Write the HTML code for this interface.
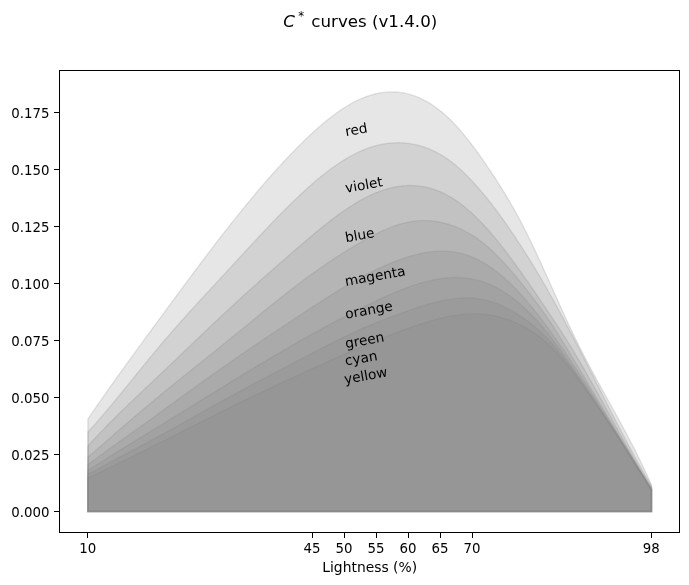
<!DOCTYPE html>
<html lang="en"><head><meta charset="utf-8"><title>C* curves (v1.4.0)</title>
<style>html,body{margin:0;padding:0;background:#fff}body{width:689px;height:585px;overflow:hidden}svg{display:block}text{font-family:"DejaVu Sans","Liberation Sans",sans-serif;fill:#000}.t{font-size:13.89px}</style></head><body>
<svg width="689" height="585" viewBox="0 0 689 585">
<rect width="689" height="585" fill="#fff"/>
<g fill="#808080" fill-opacity="0.2" stroke="#808080" stroke-opacity="0.2" stroke-width="1.39" stroke-linejoin="miter">
<path d="M87.90 511.50 L87.90 419.08 L89.90 416.14 L91.90 413.22 L93.90 410.31 L95.90 407.41 L97.90 404.52 L99.90 401.64 L101.90 398.76 L103.90 395.90 L105.90 393.05 L107.90 390.21 L109.90 387.37 L111.90 384.55 L113.90 381.73 L115.90 378.92 L117.90 376.11 L119.90 373.32 L121.90 370.53 L123.90 367.74 L125.90 364.96 L127.90 362.19 L129.90 359.42 L131.90 356.66 L133.90 353.90 L135.90 351.15 L137.90 348.40 L139.90 345.66 L141.90 342.92 L143.90 340.18 L145.90 337.44 L147.90 334.71 L149.90 331.98 L151.90 329.25 L153.90 326.52 L155.90 323.79 L157.90 321.07 L159.90 318.34 L161.90 315.62 L163.90 312.89 L165.90 310.17 L167.90 307.45 L169.90 304.73 L171.90 302.01 L173.90 299.29 L175.90 296.57 L177.90 293.86 L179.90 291.15 L181.90 288.45 L183.90 285.74 L185.90 283.04 L187.90 280.35 L189.90 277.66 L191.90 274.97 L193.90 272.29 L195.90 269.62 L197.90 266.95 L199.90 264.28 L201.90 261.62 L203.90 258.97 L205.90 256.33 L207.90 253.69 L209.90 251.06 L211.90 248.43 L213.90 245.82 L215.90 243.21 L217.90 240.61 L219.90 238.02 L221.90 235.44 L223.90 232.87 L225.90 230.31 L227.90 227.76 L229.90 225.22 L231.90 222.69 L233.90 220.17 L235.90 217.66 L237.90 215.17 L239.90 212.68 L241.90 210.21 L243.90 207.75 L245.90 205.30 L247.90 202.86 L249.90 200.44 L251.90 198.03 L253.90 195.64 L255.90 193.26 L257.90 190.89 L259.90 188.54 L261.90 186.20 L263.90 183.88 L265.90 181.57 L267.90 179.28 L269.90 177.00 L271.90 174.75 L273.90 172.50 L275.90 170.28 L277.90 168.07 L279.90 165.88 L281.90 163.70 L283.90 161.55 L285.90 159.41 L287.90 157.29 L289.90 155.19 L291.90 153.11 L293.90 151.05 L295.90 149.01 L297.90 146.98 L299.90 144.98 L301.90 143.00 L303.90 141.04 L305.90 139.10 L307.90 137.19 L309.90 135.30 L311.90 133.44 L313.90 131.60 L315.90 129.79 L317.90 128.01 L319.90 126.26 L321.90 124.54 L323.90 122.86 L325.90 121.20 L327.90 119.58 L329.90 118.00 L331.90 116.45 L333.90 114.94 L335.90 113.47 L337.90 112.04 L339.90 110.65 L341.90 109.30 L343.90 108.00 L345.90 106.73 L347.90 105.52 L349.90 104.35 L351.90 103.22 L353.90 102.15 L355.90 101.12 L357.90 100.15 L359.90 99.22 L361.90 98.35 L363.90 97.53 L365.90 96.77 L367.90 96.05 L369.90 95.40 L371.90 94.80 L373.90 94.25 L375.90 93.76 L377.90 93.32 L379.90 92.95 L381.90 92.63 L383.90 92.36 L385.90 92.16 L387.90 92.02 L389.90 91.93 L391.90 91.90 L393.90 91.94 L395.90 92.03 L397.90 92.19 L399.90 92.41 L401.90 92.69 L403.90 93.03 L405.90 93.44 L407.90 93.91 L409.90 94.44 L411.90 95.04 L413.90 95.71 L415.90 96.44 L417.90 97.23 L419.90 98.09 L421.90 99.02 L423.90 100.02 L425.90 101.09 L427.90 102.22 L429.90 103.42 L431.90 104.69 L433.90 106.03 L435.90 107.45 L437.90 108.93 L439.90 110.48 L441.90 112.11 L443.90 113.81 L445.90 115.58 L447.90 117.43 L449.90 119.34 L451.90 121.34 L453.90 123.40 L455.90 125.54 L457.90 127.74 L459.90 130.00 L461.90 132.33 L463.90 134.72 L465.90 137.17 L467.90 139.68 L469.90 142.24 L471.90 144.85 L473.90 147.50 L475.90 150.21 L477.90 152.96 L479.90 155.75 L481.90 158.58 L483.90 161.45 L485.90 164.35 L487.90 167.29 L489.90 170.26 L491.90 173.25 L493.90 176.28 L495.90 179.34 L497.90 182.44 L499.90 185.58 L501.90 188.77 L503.90 192.00 L505.90 195.28 L507.90 198.62 L509.90 202.02 L511.90 205.48 L513.90 209.00 L515.90 212.59 L517.90 216.26 L519.90 220.00 L521.90 223.81 L523.90 227.70 L525.90 231.66 L527.90 235.68 L529.90 239.77 L531.90 243.91 L533.90 248.10 L535.90 252.34 L537.90 256.63 L539.90 260.95 L541.90 265.31 L543.90 269.69 L545.90 274.11 L547.90 278.54 L549.90 282.99 L551.90 287.44 L553.90 291.91 L555.90 296.36 L557.90 300.81 L559.90 305.25 L561.90 309.67 L563.90 314.06 L565.90 318.42 L567.90 322.75 L569.90 327.03 L571.90 331.26 L573.90 335.44 L575.90 339.56 L577.90 343.62 L579.90 347.63 L581.90 351.58 L583.90 355.48 L585.90 359.33 L587.90 363.15 L589.90 366.92 L591.90 370.66 L593.90 374.37 L595.90 378.05 L597.90 381.72 L599.90 385.36 L601.90 388.98 L603.90 392.60 L605.90 396.21 L607.90 399.81 L609.90 403.41 L611.90 407.02 L613.90 410.64 L615.90 414.26 L617.90 417.91 L619.90 421.57 L621.90 425.25 L623.90 428.96 L625.90 432.70 L627.90 436.48 L629.90 440.29 L631.90 444.15 L633.90 448.05 L635.90 452.00 L637.90 456.00 L639.90 460.07 L641.90 464.19 L643.90 468.37 L645.90 472.63 L647.90 476.96 L649.90 481.36 L651.54 485.03 L651.54 511.50 Z"/>
<path d="M87.90 511.50 L87.90 432.01 L89.90 429.83 L91.90 427.62 L93.90 425.39 L95.90 423.13 L97.90 420.85 L99.90 418.55 L101.90 416.24 L103.90 413.90 L105.90 411.55 L107.90 409.18 L109.90 406.80 L111.90 404.40 L113.90 401.99 L115.90 399.58 L117.90 397.15 L119.90 394.71 L121.90 392.26 L123.90 389.81 L125.90 387.35 L127.90 384.88 L129.90 382.42 L131.90 379.95 L133.90 377.48 L135.90 375.01 L137.90 372.54 L139.90 370.07 L141.90 367.61 L143.90 365.15 L145.90 362.70 L147.90 360.25 L149.90 357.81 L151.90 355.39 L153.90 352.97 L155.90 350.56 L157.90 348.16 L159.90 345.78 L161.90 343.42 L163.90 341.06 L165.90 338.72 L167.90 336.40 L169.90 334.09 L171.90 331.79 L173.90 329.50 L175.90 327.22 L177.90 324.95 L179.90 322.70 L181.90 320.45 L183.90 318.21 L185.90 315.99 L187.90 313.77 L189.90 311.55 L191.90 309.35 L193.90 307.15 L195.90 304.96 L197.90 302.77 L199.90 300.59 L201.90 298.41 L203.90 296.24 L205.90 294.07 L207.90 291.90 L209.90 289.74 L211.90 287.58 L213.90 285.42 L215.90 283.26 L217.90 281.11 L219.90 278.95 L221.90 276.79 L223.90 274.63 L225.90 272.47 L227.90 270.31 L229.90 268.15 L231.90 265.98 L233.90 263.81 L235.90 261.64 L237.90 259.47 L239.90 257.29 L241.90 255.12 L243.90 252.95 L245.90 250.78 L247.90 248.61 L249.90 246.45 L251.90 244.29 L253.90 242.13 L255.90 239.98 L257.90 237.83 L259.90 235.69 L261.90 233.56 L263.90 231.43 L265.90 229.31 L267.90 227.20 L269.90 225.10 L271.90 223.01 L273.90 220.93 L275.90 218.86 L277.90 216.80 L279.90 214.75 L281.90 212.72 L283.90 210.70 L285.90 208.70 L287.90 206.71 L289.90 204.73 L291.90 202.78 L293.90 200.84 L295.90 198.91 L297.90 197.01 L299.90 195.12 L301.90 193.26 L303.90 191.41 L305.90 189.58 L307.90 187.78 L309.90 186.00 L311.90 184.25 L313.90 182.51 L315.90 180.81 L317.90 179.13 L319.90 177.48 L321.90 175.85 L323.90 174.26 L325.90 172.69 L327.90 171.16 L329.90 169.65 L331.90 168.18 L333.90 166.74 L335.90 165.34 L337.90 163.97 L339.90 162.64 L341.90 161.34 L343.90 160.09 L345.90 158.87 L347.90 157.68 L349.90 156.54 L351.90 155.44 L353.90 154.39 L355.90 153.37 L357.90 152.40 L359.90 151.47 L361.90 150.59 L363.90 149.76 L365.90 148.97 L367.90 148.22 L369.90 147.52 L371.90 146.87 L373.90 146.27 L375.90 145.71 L377.90 145.20 L379.90 144.73 L381.90 144.32 L383.90 143.95 L385.90 143.63 L387.90 143.36 L389.90 143.13 L391.90 142.96 L393.90 142.83 L395.90 142.76 L397.90 142.73 L399.90 142.75 L401.90 142.82 L403.90 142.94 L405.90 143.11 L407.90 143.34 L409.90 143.61 L411.90 143.93 L413.90 144.31 L415.90 144.73 L417.90 145.22 L419.90 145.75 L421.90 146.34 L423.90 146.99 L425.90 147.69 L427.90 148.45 L429.90 149.26 L431.90 150.14 L433.90 151.08 L435.90 152.07 L437.90 153.13 L439.90 154.25 L441.90 155.43 L443.90 156.68 L445.90 157.99 L447.90 159.37 L449.90 160.81 L451.90 162.32 L453.90 163.90 L455.90 165.54 L457.90 167.24 L459.90 169.00 L461.90 170.83 L463.90 172.71 L465.90 174.66 L467.90 176.65 L469.90 178.71 L471.90 180.81 L473.90 182.97 L475.90 185.18 L477.90 187.44 L479.90 189.75 L481.90 192.10 L483.90 194.51 L485.90 196.95 L487.90 199.44 L489.90 201.96 L491.90 204.53 L493.90 207.14 L495.90 209.79 L497.90 212.47 L499.90 215.20 L501.90 217.95 L503.90 220.75 L505.90 223.58 L507.90 226.44 L509.90 229.34 L511.90 232.28 L513.90 235.24 L515.90 238.24 L517.90 241.27 L519.90 244.33 L521.90 247.42 L523.90 250.54 L525.90 253.69 L527.90 256.87 L529.90 260.09 L531.90 263.33 L533.90 266.61 L535.90 269.92 L537.90 273.26 L539.90 276.64 L541.90 280.05 L543.90 283.49 L545.90 286.97 L547.90 290.48 L549.90 294.03 L551.90 297.60 L553.90 301.21 L555.90 304.85 L557.90 308.51 L559.90 312.20 L561.90 315.92 L563.90 319.66 L565.90 323.42 L567.90 327.20 L569.90 331.01 L571.90 334.83 L573.90 338.67 L575.90 342.53 L577.90 346.41 L579.90 350.30 L581.90 354.20 L583.90 358.11 L585.90 362.03 L587.90 365.96 L589.90 369.90 L591.90 373.84 L593.90 377.79 L595.90 381.73 L597.90 385.68 L599.90 389.62 L601.90 393.56 L603.90 397.50 L605.90 401.44 L607.90 405.36 L609.90 409.28 L611.90 413.18 L613.90 417.07 L615.90 420.95 L617.90 424.82 L619.90 428.67 L621.90 432.50 L623.90 436.31 L625.90 440.10 L627.90 443.86 L629.90 447.61 L631.90 451.32 L633.90 455.01 L635.90 458.67 L637.90 462.30 L639.90 465.90 L641.90 469.47 L643.90 473.00 L645.90 476.49 L647.90 479.95 L649.90 483.36 L651.54 486.13 L651.54 511.50 Z"/>
<path d="M87.90 511.50 L87.90 445.96 L89.90 443.76 L91.90 441.58 L93.90 439.42 L95.90 437.27 L97.90 435.15 L99.90 433.04 L101.90 430.95 L103.90 428.88 L105.90 426.82 L107.90 424.78 L109.90 422.75 L111.90 420.73 L113.90 418.73 L115.90 416.74 L117.90 414.76 L119.90 412.79 L121.90 410.83 L123.90 408.88 L125.90 406.94 L127.90 405.01 L129.90 403.08 L131.90 401.17 L133.90 399.25 L135.90 397.35 L137.90 395.45 L139.90 393.55 L141.90 391.65 L143.90 389.76 L145.90 387.87 L147.90 385.99 L149.90 384.10 L151.90 382.21 L153.90 380.33 L155.90 378.44 L157.90 376.55 L159.90 374.66 L161.90 372.76 L163.90 370.87 L165.90 368.97 L167.90 367.06 L169.90 365.16 L171.90 363.25 L173.90 361.34 L175.90 359.43 L177.90 357.52 L179.90 355.61 L181.90 353.69 L183.90 351.78 L185.90 349.87 L187.90 347.95 L189.90 346.04 L191.90 344.12 L193.90 342.21 L195.90 340.30 L197.90 338.39 L199.90 336.48 L201.90 334.57 L203.90 332.67 L205.90 330.76 L207.90 328.86 L209.90 326.96 L211.90 325.07 L213.90 323.17 L215.90 321.29 L217.90 319.40 L219.90 317.52 L221.90 315.64 L223.90 313.77 L225.90 311.90 L227.90 310.03 L229.90 308.17 L231.90 306.32 L233.90 304.47 L235.90 302.63 L237.90 300.79 L239.90 298.95 L241.90 297.12 L243.90 295.30 L245.90 293.48 L247.90 291.67 L249.90 289.86 L251.90 288.05 L253.90 286.25 L255.90 284.45 L257.90 282.66 L259.90 280.87 L261.90 279.09 L263.90 277.31 L265.90 275.53 L267.90 273.76 L269.90 272.00 L271.90 270.23 L273.90 268.47 L275.90 266.72 L277.90 264.96 L279.90 263.22 L281.90 261.47 L283.90 259.73 L285.90 257.99 L287.90 256.26 L289.90 254.52 L291.90 252.80 L293.90 251.07 L295.90 249.35 L297.90 247.63 L299.90 245.91 L301.90 244.20 L303.90 242.49 L305.90 240.78 L307.90 239.09 L309.90 237.39 L311.90 235.71 L313.90 234.04 L315.90 232.37 L317.90 230.72 L319.90 229.09 L321.90 227.46 L323.90 225.85 L325.90 224.26 L327.90 222.68 L329.90 221.12 L331.90 219.59 L333.90 218.07 L335.90 216.57 L337.90 215.10 L339.90 213.65 L341.90 212.22 L343.90 210.83 L345.90 209.45 L347.90 208.11 L349.90 206.80 L351.90 205.51 L353.90 204.26 L355.90 203.04 L357.90 201.86 L359.90 200.71 L361.90 199.60 L363.90 198.52 L365.90 197.48 L367.90 196.48 L369.90 195.52 L371.90 194.59 L373.90 193.71 L375.90 192.87 L377.90 192.07 L379.90 191.31 L381.90 190.60 L383.90 189.93 L385.90 189.30 L387.90 188.72 L389.90 188.19 L391.90 187.70 L393.90 187.25 L395.90 186.86 L397.90 186.51 L399.90 186.22 L401.90 185.97 L403.90 185.78 L405.90 185.63 L407.90 185.54 L409.90 185.50 L411.90 185.51 L413.90 185.58 L415.90 185.70 L417.90 185.88 L419.90 186.11 L421.90 186.40 L423.90 186.75 L425.90 187.15 L427.90 187.61 L429.90 188.13 L431.90 188.71 L433.90 189.35 L435.90 190.04 L437.90 190.80 L439.90 191.62 L441.90 192.50 L443.90 193.45 L445.90 194.45 L447.90 195.52 L449.90 196.65 L451.90 197.85 L453.90 199.11 L455.90 200.44 L457.90 201.82 L459.90 203.27 L461.90 204.78 L463.90 206.35 L465.90 207.98 L467.90 209.66 L469.90 211.41 L471.90 213.21 L473.90 215.06 L475.90 216.97 L477.90 218.94 L479.90 220.96 L481.90 223.03 L483.90 225.15 L485.90 227.33 L487.90 229.55 L489.90 231.82 L491.90 234.15 L493.90 236.52 L495.90 238.93 L497.90 241.39 L499.90 243.88 L501.90 246.42 L503.90 248.99 L505.90 251.60 L507.90 254.24 L509.90 256.91 L511.90 259.61 L513.90 262.34 L515.90 265.09 L517.90 267.87 L519.90 270.66 L521.90 273.48 L523.90 276.31 L525.90 279.16 L527.90 282.02 L529.90 284.90 L531.90 287.80 L533.90 290.70 L535.90 293.62 L537.90 296.55 L539.90 299.49 L541.90 302.44 L543.90 305.40 L545.90 308.36 L547.90 311.34 L549.90 314.32 L551.90 317.31 L553.90 320.32 L555.90 323.35 L557.90 326.40 L559.90 329.46 L561.90 332.55 L563.90 335.67 L565.90 338.81 L567.90 341.99 L569.90 345.20 L571.90 348.44 L573.90 351.72 L575.90 355.04 L577.90 358.39 L579.90 361.79 L581.90 365.22 L583.90 368.68 L585.90 372.17 L587.90 375.69 L589.90 379.23 L591.90 382.80 L593.90 386.39 L595.90 389.99 L597.90 393.61 L599.90 397.24 L601.90 400.88 L603.90 404.53 L605.90 408.19 L607.90 411.85 L609.90 415.51 L611.90 419.17 L613.90 422.82 L615.90 426.47 L617.90 430.10 L619.90 433.73 L621.90 437.34 L623.90 440.94 L625.90 444.51 L627.90 448.07 L629.90 451.60 L631.90 455.10 L633.90 458.58 L635.90 462.03 L637.90 465.44 L639.90 468.82 L641.90 472.15 L643.90 475.45 L645.90 478.71 L647.90 481.91 L649.90 485.08 L651.54 487.62 L651.54 511.50 Z"/>
<path d="M87.90 511.50 L87.90 457.35 L89.90 455.57 L91.90 453.78 L93.90 452.01 L95.90 450.23 L97.90 448.46 L99.90 446.70 L101.90 444.93 L103.90 443.18 L105.90 441.42 L107.90 439.67 L109.90 437.92 L111.90 436.18 L113.90 434.44 L115.90 432.71 L117.90 430.97 L119.90 429.25 L121.90 427.52 L123.90 425.80 L125.90 424.09 L127.90 422.38 L129.90 420.67 L131.90 418.96 L133.90 417.26 L135.90 415.57 L137.90 413.88 L139.90 412.19 L141.90 410.50 L143.90 408.82 L145.90 407.15 L147.90 405.48 L149.90 403.81 L151.90 402.15 L153.90 400.49 L155.90 398.83 L157.90 397.18 L159.90 395.53 L161.90 393.89 L163.90 392.25 L165.90 390.62 L167.90 388.98 L169.90 387.36 L171.90 385.73 L173.90 384.11 L175.90 382.49 L177.90 380.87 L179.90 379.26 L181.90 377.65 L183.90 376.03 L185.90 374.43 L187.90 372.82 L189.90 371.21 L191.90 369.61 L193.90 368.00 L195.90 366.40 L197.90 364.80 L199.90 363.19 L201.90 361.59 L203.90 359.99 L205.90 358.38 L207.90 356.78 L209.90 355.17 L211.90 353.57 L213.90 351.96 L215.90 350.35 L217.90 348.74 L219.90 347.13 L221.90 345.51 L223.90 343.90 L225.90 342.28 L227.90 340.65 L229.90 339.03 L231.90 337.40 L233.90 335.77 L235.90 334.14 L237.90 332.50 L239.90 330.87 L241.90 329.23 L243.90 327.59 L245.90 325.95 L247.90 324.31 L249.90 322.67 L251.90 321.03 L253.90 319.40 L255.90 317.76 L257.90 316.12 L259.90 314.49 L261.90 312.86 L263.90 311.24 L265.90 309.61 L267.90 307.99 L269.90 306.38 L271.90 304.77 L273.90 303.16 L275.90 301.56 L277.90 299.96 L279.90 298.37 L281.90 296.79 L283.90 295.21 L285.90 293.64 L287.90 292.08 L289.90 290.53 L291.90 288.98 L293.90 287.44 L295.90 285.92 L297.90 284.40 L299.90 282.89 L301.90 281.39 L303.90 279.90 L305.90 278.42 L307.90 276.95 L309.90 275.49 L311.90 274.05 L313.90 272.61 L315.90 271.19 L317.90 269.77 L319.90 268.37 L321.90 266.98 L323.90 265.59 L325.90 264.22 L327.90 262.87 L329.90 261.52 L331.90 260.18 L333.90 258.86 L335.90 257.55 L337.90 256.25 L339.90 254.96 L341.90 253.68 L343.90 252.42 L345.90 251.17 L347.90 249.93 L349.90 248.70 L351.90 247.49 L353.90 246.29 L355.90 245.10 L357.90 243.92 L359.90 242.76 L361.90 241.61 L363.90 240.48 L365.90 239.36 L367.90 238.26 L369.90 237.17 L371.90 236.11 L373.90 235.07 L375.90 234.06 L377.90 233.07 L379.90 232.10 L381.90 231.16 L383.90 230.26 L385.90 229.38 L387.90 228.54 L389.90 227.73 L391.90 226.96 L393.90 226.22 L395.90 225.52 L397.90 224.87 L399.90 224.25 L401.90 223.68 L403.90 223.15 L405.90 222.67 L407.90 222.24 L409.90 221.85 L411.90 221.52 L413.90 221.23 L415.90 221.00 L417.90 220.82 L419.90 220.69 L421.90 220.61 L423.90 220.58 L425.90 220.60 L427.90 220.67 L429.90 220.79 L431.90 220.97 L433.90 221.19 L435.90 221.46 L437.90 221.78 L439.90 222.16 L441.90 222.58 L443.90 223.05 L445.90 223.58 L447.90 224.15 L449.90 224.78 L451.90 225.45 L453.90 226.17 L455.90 226.95 L457.90 227.78 L459.90 228.66 L461.90 229.59 L463.90 230.58 L465.90 231.63 L467.90 232.73 L469.90 233.88 L471.90 235.10 L473.90 236.37 L475.90 237.70 L477.90 239.09 L479.90 240.54 L481.90 242.06 L483.90 243.63 L485.90 245.27 L487.90 246.97 L489.90 248.74 L491.90 250.57 L493.90 252.46 L495.90 254.41 L497.90 256.42 L499.90 258.48 L501.90 260.60 L503.90 262.76 L505.90 264.96 L507.90 267.20 L509.90 269.49 L511.90 271.80 L513.90 274.15 L515.90 276.53 L517.90 278.94 L519.90 281.37 L521.90 283.82 L523.90 286.29 L525.90 288.78 L527.90 291.31 L529.90 293.86 L531.90 296.45 L533.90 299.07 L535.90 301.73 L537.90 304.42 L539.90 307.16 L541.90 309.95 L543.90 312.78 L545.90 315.67 L547.90 318.60 L549.90 321.58 L551.90 324.60 L553.90 327.67 L555.90 330.77 L557.90 333.91 L559.90 337.08 L561.90 340.28 L563.90 343.51 L565.90 346.76 L567.90 350.03 L569.90 353.32 L571.90 356.63 L573.90 359.94 L575.90 363.26 L577.90 366.59 L579.90 369.93 L581.90 373.27 L583.90 376.62 L585.90 379.97 L587.90 383.33 L589.90 386.69 L591.90 390.05 L593.90 393.42 L595.90 396.79 L597.90 400.15 L599.90 403.52 L601.90 406.89 L603.90 410.26 L605.90 413.62 L607.90 416.99 L609.90 420.35 L611.90 423.71 L613.90 427.07 L615.90 430.42 L617.90 433.77 L619.90 437.11 L621.90 440.45 L623.90 443.78 L625.90 447.10 L627.90 450.41 L629.90 453.72 L631.90 457.02 L633.90 460.31 L635.90 463.59 L637.90 466.86 L639.90 470.12 L641.90 473.37 L643.90 476.60 L645.90 479.83 L647.90 483.04 L649.90 486.23 L651.54 488.84 L651.54 511.50 Z"/>
<path d="M87.90 511.50 L87.90 464.55 L89.90 463.09 L91.90 461.62 L93.90 460.16 L95.90 458.71 L97.90 457.25 L99.90 455.80 L101.90 454.35 L103.90 452.90 L105.90 451.45 L107.90 450.00 L109.90 448.56 L111.90 447.12 L113.90 445.67 L115.90 444.23 L117.90 442.80 L119.90 441.36 L121.90 439.92 L123.90 438.48 L125.90 437.05 L127.90 435.61 L129.90 434.18 L131.90 432.75 L133.90 431.31 L135.90 429.88 L137.90 428.44 L139.90 427.01 L141.90 425.58 L143.90 424.14 L145.90 422.71 L147.90 421.27 L149.90 419.83 L151.90 418.40 L153.90 416.96 L155.90 415.52 L157.90 414.08 L159.90 412.64 L161.90 411.19 L163.90 409.75 L165.90 408.30 L167.90 406.86 L169.90 405.41 L171.90 403.96 L173.90 402.51 L175.90 401.06 L177.90 399.62 L179.90 398.17 L181.90 396.72 L183.90 395.27 L185.90 393.82 L187.90 392.37 L189.90 390.93 L191.90 389.48 L193.90 388.04 L195.90 386.59 L197.90 385.15 L199.90 383.71 L201.90 382.27 L203.90 380.84 L205.90 379.40 L207.90 377.97 L209.90 376.54 L211.90 375.11 L213.90 373.69 L215.90 372.27 L217.90 370.85 L219.90 369.43 L221.90 368.02 L223.90 366.61 L225.90 365.21 L227.90 363.81 L229.90 362.41 L231.90 361.02 L233.90 359.63 L235.90 358.24 L237.90 356.86 L239.90 355.48 L241.90 354.11 L243.90 352.74 L245.90 351.37 L247.90 350.01 L249.90 348.64 L251.90 347.29 L253.90 345.93 L255.90 344.58 L257.90 343.23 L259.90 341.88 L261.90 340.54 L263.90 339.19 L265.90 337.85 L267.90 336.52 L269.90 335.18 L271.90 333.85 L273.90 332.51 L275.90 331.18 L277.90 329.85 L279.90 328.52 L281.90 327.20 L283.90 325.87 L285.90 324.55 L287.90 323.22 L289.90 321.90 L291.90 320.58 L293.90 319.25 L295.90 317.93 L297.90 316.61 L299.90 315.29 L301.90 313.97 L303.90 312.65 L305.90 311.33 L307.90 310.01 L309.90 308.70 L311.90 307.38 L313.90 306.07 L315.90 304.77 L317.90 303.47 L319.90 302.17 L321.90 300.88 L323.90 299.59 L325.90 298.31 L327.90 297.03 L329.90 295.76 L331.90 294.50 L333.90 293.25 L335.90 292.01 L337.90 290.77 L339.90 289.55 L341.90 288.34 L343.90 287.13 L345.90 285.94 L347.90 284.76 L349.90 283.59 L351.90 282.43 L353.90 281.28 L355.90 280.15 L357.90 279.04 L359.90 277.94 L361.90 276.85 L363.90 275.78 L365.90 274.72 L367.90 273.68 L369.90 272.66 L371.90 271.65 L373.90 270.66 L375.90 269.69 L377.90 268.74 L379.90 267.81 L381.90 266.89 L383.90 266.00 L385.90 265.12 L387.90 264.27 L389.90 263.43 L391.90 262.62 L393.90 261.83 L395.90 261.06 L397.90 260.32 L399.90 259.59 L401.90 258.89 L403.90 258.21 L405.90 257.56 L407.90 256.93 L409.90 256.33 L411.90 255.75 L413.90 255.20 L415.90 254.67 L417.90 254.18 L419.90 253.72 L421.90 253.28 L423.90 252.89 L425.90 252.53 L427.90 252.20 L429.90 251.91 L431.90 251.67 L433.90 251.46 L435.90 251.30 L437.90 251.18 L439.90 251.10 L441.90 251.08 L443.90 251.10 L445.90 251.17 L447.90 251.29 L449.90 251.47 L451.90 251.69 L453.90 251.98 L455.90 252.31 L457.90 252.71 L459.90 253.15 L461.90 253.66 L463.90 254.22 L465.90 254.83 L467.90 255.51 L469.90 256.24 L471.90 257.02 L473.90 257.87 L475.90 258.77 L477.90 259.73 L479.90 260.75 L481.90 261.83 L483.90 262.96 L485.90 264.16 L487.90 265.42 L489.90 266.73 L491.90 268.11 L493.90 269.55 L495.90 271.04 L497.90 272.60 L499.90 274.21 L501.90 275.88 L503.90 277.60 L505.90 279.38 L507.90 281.22 L509.90 283.11 L511.90 285.05 L513.90 287.04 L515.90 289.09 L517.90 291.19 L519.90 293.34 L521.90 295.54 L523.90 297.79 L525.90 300.08 L527.90 302.42 L529.90 304.80 L531.90 307.23 L533.90 309.69 L535.90 312.19 L537.90 314.73 L539.90 317.30 L541.90 319.91 L543.90 322.55 L545.90 325.21 L547.90 327.91 L549.90 330.63 L551.90 333.38 L553.90 336.16 L555.90 338.97 L557.90 341.79 L559.90 344.65 L561.90 347.53 L563.90 350.43 L565.90 353.36 L567.90 356.30 L569.90 359.27 L571.90 362.27 L573.90 365.28 L575.90 368.31 L577.90 371.36 L579.90 374.44 L581.90 377.53 L583.90 380.63 L585.90 383.75 L587.90 386.89 L589.90 390.04 L591.90 393.21 L593.90 396.39 L595.90 399.57 L597.90 402.77 L599.90 405.98 L601.90 409.20 L603.90 412.43 L605.90 415.66 L607.90 418.90 L609.90 422.15 L611.90 425.39 L613.90 428.65 L615.90 431.90 L617.90 435.16 L619.90 438.42 L621.90 441.67 L623.90 444.93 L625.90 448.18 L627.90 451.44 L629.90 454.68 L631.90 457.93 L633.90 461.17 L635.90 464.40 L637.90 467.62 L639.90 470.84 L641.90 474.04 L643.90 477.24 L645.90 480.43 L647.90 483.60 L649.90 486.76 L651.54 489.34 L651.54 511.50 Z"/>
<path d="M87.90 511.50 L87.90 470.35 L89.90 469.07 L91.90 467.80 L93.90 466.53 L95.90 465.26 L97.90 463.99 L99.90 462.73 L101.90 461.47 L103.90 460.22 L105.90 458.97 L107.90 457.72 L109.90 456.47 L111.90 455.23 L113.90 453.99 L115.90 452.75 L117.90 451.51 L119.90 450.27 L121.90 449.04 L123.90 447.81 L125.90 446.58 L127.90 445.35 L129.90 444.12 L131.90 442.89 L133.90 441.67 L135.90 440.44 L137.90 439.22 L139.90 437.99 L141.90 436.77 L143.90 435.54 L145.90 434.32 L147.90 433.10 L149.90 431.87 L151.90 430.65 L153.90 429.43 L155.90 428.20 L157.90 426.97 L159.90 425.75 L161.90 424.52 L163.90 423.29 L165.90 422.06 L167.90 420.83 L169.90 419.60 L171.90 418.37 L173.90 417.13 L175.90 415.90 L177.90 414.66 L179.90 413.43 L181.90 412.19 L183.90 410.96 L185.90 409.72 L187.90 408.49 L189.90 407.25 L191.90 406.01 L193.90 404.78 L195.90 403.54 L197.90 402.30 L199.90 401.07 L201.90 399.83 L203.90 398.59 L205.90 397.36 L207.90 396.12 L209.90 394.89 L211.90 393.65 L213.90 392.42 L215.90 391.19 L217.90 389.95 L219.90 388.72 L221.90 387.49 L223.90 386.26 L225.90 385.03 L227.90 383.80 L229.90 382.58 L231.90 381.35 L233.90 380.13 L235.90 378.90 L237.90 377.68 L239.90 376.46 L241.90 375.24 L243.90 374.02 L245.90 372.81 L247.90 371.59 L249.90 370.38 L251.90 369.17 L253.90 367.96 L255.90 366.76 L257.90 365.56 L259.90 364.35 L261.90 363.16 L263.90 361.96 L265.90 360.77 L267.90 359.58 L269.90 358.39 L271.90 357.20 L273.90 356.02 L275.90 354.84 L277.90 353.66 L279.90 352.49 L281.90 351.32 L283.90 350.15 L285.90 348.99 L287.90 347.83 L289.90 346.68 L291.90 345.53 L293.90 344.38 L295.90 343.23 L297.90 342.09 L299.90 340.96 L301.90 339.82 L303.90 338.70 L305.90 337.57 L307.90 336.45 L309.90 335.34 L311.90 334.23 L313.90 333.12 L315.90 332.02 L317.90 330.92 L319.90 329.83 L321.90 328.74 L323.90 327.65 L325.90 326.57 L327.90 325.49 L329.90 324.42 L331.90 323.35 L333.90 322.28 L335.90 321.22 L337.90 320.17 L339.90 319.11 L341.90 318.07 L343.90 317.02 L345.90 315.98 L347.90 314.95 L349.90 313.92 L351.90 312.89 L353.90 311.87 L355.90 310.85 L357.90 309.83 L359.90 308.82 L361.90 307.82 L363.90 306.82 L365.90 305.82 L367.90 304.83 L369.90 303.85 L371.90 302.88 L373.90 301.91 L375.90 300.95 L377.90 300.00 L379.90 299.06 L381.90 298.13 L383.90 297.22 L385.90 296.31 L387.90 295.42 L389.90 294.54 L391.90 293.67 L393.90 292.81 L395.90 291.98 L397.90 291.15 L399.90 290.35 L401.90 289.56 L403.90 288.78 L405.90 288.03 L407.90 287.29 L409.90 286.57 L411.90 285.88 L413.90 285.20 L415.90 284.54 L417.90 283.91 L419.90 283.30 L421.90 282.72 L423.90 282.16 L425.90 281.63 L427.90 281.13 L429.90 280.65 L431.90 280.21 L433.90 279.79 L435.90 279.41 L437.90 279.06 L439.90 278.74 L441.90 278.46 L443.90 278.21 L445.90 278.00 L447.90 277.83 L449.90 277.70 L451.90 277.60 L453.90 277.55 L455.90 277.54 L457.90 277.57 L459.90 277.64 L461.90 277.76 L463.90 277.92 L465.90 278.13 L467.90 278.38 L469.90 278.68 L471.90 279.04 L473.90 279.44 L475.90 279.89 L477.90 280.39 L479.90 280.94 L481.90 281.55 L483.90 282.21 L485.90 282.93 L487.90 283.70 L489.90 284.53 L491.90 285.41 L493.90 286.36 L495.90 287.36 L497.90 288.42 L499.90 289.53 L501.90 290.71 L503.90 291.94 L505.90 293.23 L507.90 294.58 L509.90 295.98 L511.90 297.45 L513.90 298.97 L515.90 300.55 L517.90 302.19 L519.90 303.88 L521.90 305.64 L523.90 307.45 L525.90 309.32 L527.90 311.25 L529.90 313.24 L531.90 315.28 L533.90 317.38 L535.90 319.53 L537.90 321.74 L539.90 324.01 L541.90 326.32 L543.90 328.70 L545.90 331.12 L547.90 333.60 L549.90 336.13 L551.90 338.71 L553.90 341.32 L555.90 343.98 L557.90 346.68 L559.90 349.42 L561.90 352.18 L563.90 354.98 L565.90 357.80 L567.90 360.64 L569.90 363.51 L571.90 366.40 L573.90 369.30 L575.90 372.21 L577.90 375.14 L579.90 378.07 L581.90 381.02 L583.90 383.98 L585.90 386.94 L587.90 389.92 L589.90 392.91 L591.90 395.91 L593.90 398.92 L595.90 401.94 L597.90 404.97 L599.90 408.01 L601.90 411.06 L603.90 414.12 L605.90 417.19 L607.90 420.27 L609.90 423.36 L611.90 426.46 L613.90 429.57 L615.90 432.69 L617.90 435.82 L619.90 438.95 L621.90 442.10 L623.90 445.26 L625.90 448.42 L627.90 451.59 L629.90 454.78 L631.90 457.97 L633.90 461.17 L635.90 464.38 L637.90 467.59 L639.90 470.82 L641.90 474.05 L643.90 477.30 L645.90 480.55 L647.90 483.81 L649.90 487.07 L651.54 489.75 L651.54 511.50 Z"/>
<path d="M87.90 511.50 L87.90 474.45 L89.90 473.33 L91.90 472.22 L93.90 471.11 L95.90 470.01 L97.90 468.91 L99.90 467.81 L101.90 466.72 L103.90 465.63 L105.90 464.55 L107.90 463.47 L109.90 462.39 L111.90 461.32 L113.90 460.25 L115.90 459.18 L117.90 458.11 L119.90 457.04 L121.90 455.98 L123.90 454.92 L125.90 453.85 L127.90 452.79 L129.90 451.73 L131.90 450.67 L133.90 449.61 L135.90 448.55 L137.90 447.48 L139.90 446.42 L141.90 445.36 L143.90 444.29 L145.90 443.22 L147.90 442.16 L149.90 441.08 L151.90 440.01 L153.90 438.93 L155.90 437.85 L157.90 436.77 L159.90 435.68 L161.90 434.60 L163.90 433.50 L165.90 432.40 L167.90 431.30 L169.90 430.20 L171.90 429.10 L173.90 427.99 L175.90 426.88 L177.90 425.76 L179.90 424.65 L181.90 423.53 L183.90 422.41 L185.90 421.30 L187.90 420.17 L189.90 419.05 L191.90 417.93 L193.90 416.81 L195.90 415.68 L197.90 414.56 L199.90 413.44 L201.90 412.31 L203.90 411.19 L205.90 410.07 L207.90 408.95 L209.90 407.83 L211.90 406.71 L213.90 405.59 L215.90 404.48 L217.90 403.36 L219.90 402.25 L221.90 401.14 L223.90 400.03 L225.90 398.93 L227.90 397.83 L229.90 396.73 L231.90 395.63 L233.90 394.54 L235.90 393.45 L237.90 392.37 L239.90 391.28 L241.90 390.20 L243.90 389.13 L245.90 388.05 L247.90 386.98 L249.90 385.91 L251.90 384.84 L253.90 383.77 L255.90 382.71 L257.90 381.64 L259.90 380.58 L261.90 379.53 L263.90 378.47 L265.90 377.41 L267.90 376.36 L269.90 375.30 L271.90 374.25 L273.90 373.20 L275.90 372.15 L277.90 371.10 L279.90 370.05 L281.90 369.00 L283.90 367.95 L285.90 366.91 L287.90 365.86 L289.90 364.81 L291.90 363.77 L293.90 362.72 L295.90 361.67 L297.90 360.62 L299.90 359.58 L301.90 358.53 L303.90 357.48 L305.90 356.43 L307.90 355.38 L309.90 354.34 L311.90 353.29 L313.90 352.25 L315.90 351.21 L317.90 350.17 L319.90 349.13 L321.90 348.10 L323.90 347.07 L325.90 346.05 L327.90 345.03 L329.90 344.01 L331.90 343.00 L333.90 342.00 L335.90 341.00 L337.90 340.01 L339.90 339.02 L341.90 338.05 L343.90 337.07 L345.90 336.11 L347.90 335.16 L349.90 334.21 L351.90 333.27 L353.90 332.35 L355.90 331.43 L357.90 330.52 L359.90 329.63 L361.90 328.74 L363.90 327.87 L365.90 327.00 L367.90 326.15 L369.90 325.30 L371.90 324.47 L373.90 323.64 L375.90 322.83 L377.90 322.02 L379.90 321.22 L381.90 320.43 L383.90 319.65 L385.90 318.88 L387.90 318.12 L389.90 317.36 L391.90 316.61 L393.90 315.86 L395.90 315.13 L397.90 314.40 L399.90 313.68 L401.90 312.96 L403.90 312.25 L405.90 311.54 L407.90 310.84 L409.90 310.15 L411.90 309.46 L413.90 308.77 L415.90 308.09 L417.90 307.43 L419.90 306.77 L421.90 306.13 L423.90 305.50 L425.90 304.88 L427.90 304.28 L429.90 303.70 L431.90 303.13 L433.90 302.59 L435.90 302.07 L437.90 301.57 L439.90 301.10 L441.90 300.66 L443.90 300.24 L445.90 299.85 L447.90 299.50 L449.90 299.17 L451.90 298.88 L453.90 298.62 L455.90 298.40 L457.90 298.22 L459.90 298.07 L461.90 297.97 L463.90 297.90 L465.90 297.88 L467.90 297.89 L469.90 297.96 L471.90 298.06 L473.90 298.22 L475.90 298.42 L477.90 298.66 L479.90 298.96 L481.90 299.31 L483.90 299.71 L485.90 300.16 L487.90 300.66 L489.90 301.22 L491.90 301.84 L493.90 302.51 L495.90 303.23 L497.90 304.01 L499.90 304.84 L501.90 305.72 L503.90 306.65 L505.90 307.63 L507.90 308.65 L509.90 309.72 L511.90 310.84 L513.90 312.00 L515.90 313.20 L517.90 314.45 L519.90 315.73 L521.90 317.06 L523.90 318.43 L525.90 319.85 L527.90 321.31 L529.90 322.82 L531.90 324.39 L533.90 326.01 L535.90 327.69 L537.90 329.43 L539.90 331.24 L541.90 333.11 L543.90 335.06 L545.90 337.07 L547.90 339.16 L549.90 341.32 L551.90 343.54 L553.90 345.83 L555.90 348.17 L557.90 350.57 L559.90 353.03 L561.90 355.53 L563.90 358.08 L565.90 360.67 L567.90 363.30 L569.90 365.97 L571.90 368.67 L573.90 371.40 L575.90 374.15 L577.90 376.93 L579.90 379.73 L581.90 382.56 L583.90 385.40 L585.90 388.27 L587.90 391.16 L589.90 394.07 L591.90 397.00 L593.90 399.94 L595.90 402.91 L597.90 405.89 L599.90 408.89 L601.90 411.90 L603.90 414.93 L605.90 417.98 L607.90 421.03 L609.90 424.11 L611.90 427.19 L613.90 430.29 L615.90 433.39 L617.90 436.51 L619.90 439.64 L621.90 442.78 L623.90 445.93 L625.90 449.08 L627.90 452.24 L629.90 455.41 L631.90 458.59 L633.90 461.77 L635.90 464.95 L637.90 468.14 L639.90 471.34 L641.90 474.53 L643.90 477.73 L645.90 480.93 L647.90 484.13 L649.90 487.33 L651.54 489.95 L651.54 511.50 Z"/>
<path d="M87.90 511.50 L87.90 478.25 L89.90 477.29 L91.90 476.33 L93.90 475.38 L95.90 474.42 L97.90 473.46 L99.90 472.49 L101.90 471.53 L103.90 470.56 L105.90 469.60 L107.90 468.63 L109.90 467.66 L111.90 466.69 L113.90 465.72 L115.90 464.75 L117.90 463.77 L119.90 462.80 L121.90 461.82 L123.90 460.84 L125.90 459.86 L127.90 458.88 L129.90 457.90 L131.90 456.91 L133.90 455.93 L135.90 454.94 L137.90 453.95 L139.90 452.96 L141.90 451.97 L143.90 450.97 L145.90 449.98 L147.90 448.98 L149.90 447.98 L151.90 446.98 L153.90 445.98 L155.90 444.97 L157.90 443.97 L159.90 442.96 L161.90 441.95 L163.90 440.94 L165.90 439.93 L167.90 438.92 L169.90 437.90 L171.90 436.88 L173.90 435.87 L175.90 434.85 L177.90 433.83 L179.90 432.81 L181.90 431.79 L183.90 430.77 L185.90 429.75 L187.90 428.73 L189.90 427.71 L191.90 426.69 L193.90 425.68 L195.90 424.66 L197.90 423.64 L199.90 422.62 L201.90 421.60 L203.90 420.59 L205.90 419.57 L207.90 418.56 L209.90 417.55 L211.90 416.54 L213.90 415.53 L215.90 414.53 L217.90 413.52 L219.90 412.52 L221.90 411.52 L223.90 410.52 L225.90 409.53 L227.90 408.53 L229.90 407.54 L231.90 406.56 L233.90 405.57 L235.90 404.59 L237.90 403.61 L239.90 402.63 L241.90 401.66 L243.90 400.69 L245.90 399.72 L247.90 398.76 L249.90 397.79 L251.90 396.83 L253.90 395.87 L255.90 394.92 L257.90 393.96 L259.90 393.01 L261.90 392.06 L263.90 391.11 L265.90 390.17 L267.90 389.22 L269.90 388.28 L271.90 387.34 L273.90 386.40 L275.90 385.47 L277.90 384.53 L279.90 383.60 L281.90 382.67 L283.90 381.74 L285.90 380.81 L287.90 379.88 L289.90 378.95 L291.90 378.03 L293.90 377.11 L295.90 376.19 L297.90 375.26 L299.90 374.35 L301.90 373.43 L303.90 372.51 L305.90 371.59 L307.90 370.68 L309.90 369.77 L311.90 368.85 L313.90 367.94 L315.90 367.03 L317.90 366.13 L319.90 365.22 L321.90 364.32 L323.90 363.41 L325.90 362.51 L327.90 361.62 L329.90 360.72 L331.90 359.82 L333.90 358.93 L335.90 358.04 L337.90 357.15 L339.90 356.27 L341.90 355.39 L343.90 354.51 L345.90 353.63 L347.90 352.75 L349.90 351.88 L351.90 351.01 L353.90 350.14 L355.90 349.28 L357.90 348.42 L359.90 347.56 L361.90 346.70 L363.90 345.85 L365.90 345.00 L367.90 344.15 L369.90 343.31 L371.90 342.48 L373.90 341.64 L375.90 340.82 L377.90 339.99 L379.90 339.17 L381.90 338.36 L383.90 337.55 L385.90 336.75 L387.90 335.96 L389.90 335.17 L391.90 334.38 L393.90 333.61 L395.90 332.84 L397.90 332.08 L399.90 331.32 L401.90 330.57 L403.90 329.83 L405.90 329.10 L407.90 328.38 L409.90 327.66 L411.90 326.96 L413.90 326.26 L415.90 325.57 L417.90 324.90 L419.90 324.23 L421.90 323.58 L423.90 322.94 L425.90 322.32 L427.90 321.71 L429.90 321.12 L431.90 320.55 L433.90 319.99 L435.90 319.45 L437.90 318.93 L439.90 318.43 L441.90 317.95 L443.90 317.49 L445.90 317.06 L447.90 316.65 L449.90 316.26 L451.90 315.90 L453.90 315.56 L455.90 315.25 L457.90 314.97 L459.90 314.72 L461.90 314.50 L463.90 314.31 L465.90 314.15 L467.90 314.02 L469.90 313.93 L471.90 313.87 L473.90 313.84 L475.90 313.86 L477.90 313.91 L479.90 314.00 L481.90 314.13 L483.90 314.30 L485.90 314.52 L487.90 314.77 L489.90 315.07 L491.90 315.42 L493.90 315.80 L495.90 316.24 L497.90 316.71 L499.90 317.24 L501.90 317.80 L503.90 318.41 L505.90 319.06 L507.90 319.76 L509.90 320.49 L511.90 321.28 L513.90 322.10 L515.90 322.96 L517.90 323.87 L519.90 324.82 L521.90 325.82 L523.90 326.85 L525.90 327.94 L527.90 329.08 L529.90 330.27 L531.90 331.52 L533.90 332.83 L535.90 334.20 L537.90 335.65 L539.90 337.16 L541.90 338.75 L543.90 340.41 L545.90 342.16 L547.90 343.98 L549.90 345.88 L551.90 347.86 L553.90 349.90 L555.90 352.02 L557.90 354.20 L559.90 356.44 L561.90 358.74 L563.90 361.09 L565.90 363.50 L567.90 365.95 L569.90 368.45 L571.90 370.99 L573.90 373.56 L575.90 376.18 L577.90 378.82 L579.90 381.50 L581.90 384.21 L583.90 386.95 L585.90 389.72 L587.90 392.52 L589.90 395.35 L591.90 398.20 L593.90 401.07 L595.90 403.97 L597.90 406.89 L599.90 409.84 L601.90 412.80 L603.90 415.79 L605.90 418.80 L607.90 421.82 L609.90 424.86 L611.90 427.91 L613.90 430.98 L615.90 434.07 L617.90 437.17 L619.90 440.28 L621.90 443.40 L623.90 446.53 L625.90 449.67 L627.90 452.81 L629.90 455.97 L631.90 459.13 L633.90 462.29 L635.90 465.46 L637.90 468.63 L639.90 471.80 L641.90 474.98 L643.90 478.15 L645.90 481.32 L647.90 484.49 L649.90 487.66 L651.54 490.25 L651.54 511.50 Z"/>
</g>
<g style="font-size:13.7px">
<text transform="translate(345.9 136.2) rotate(-10)">red</text>
<text transform="translate(346.1 192.7) rotate(-10)">violet</text>
<text transform="translate(345.9 242.2) rotate(-10)">blue</text>
<text transform="translate(345.7 285.9) rotate(-10)">magenta</text>
<text transform="translate(345.9 318.7) rotate(-10)">orange</text>
<text transform="translate(345.9 348.2) rotate(-10)">green</text>
<text transform="translate(345.8 365.6) rotate(-10)">cyan</text>
<text transform="translate(344.9 384.0) rotate(-10)">yellow</text>
</g>
<g stroke="#000" stroke-width="1" fill="none" shape-rendering="crispEdges">
<rect x="59.5" y="70.5" width="620" height="462"/>
<line x1="87.5" y1="532.5" x2="87.5" y2="537.5"/>
<line x1="312.5" y1="532.5" x2="312.5" y2="537.5"/>
<line x1="344.5" y1="532.5" x2="344.5" y2="537.5"/>
<line x1="376.5" y1="532.5" x2="376.5" y2="537.5"/>
<line x1="408.5" y1="532.5" x2="408.5" y2="537.5"/>
<line x1="440.5" y1="532.5" x2="440.5" y2="537.5"/>
<line x1="472.5" y1="532.5" x2="472.5" y2="537.5"/>
<line x1="651.5" y1="532.5" x2="651.5" y2="537.5"/>
<line x1="54.0" y1="511.5" x2="59.5" y2="511.5"/>
<line x1="54.0" y1="454.5" x2="59.5" y2="454.5"/>
<line x1="54.0" y1="397.5" x2="59.5" y2="397.5"/>
<line x1="54.0" y1="340.5" x2="59.5" y2="340.5"/>
<line x1="54.0" y1="283.5" x2="59.5" y2="283.5"/>
<line x1="54.0" y1="226.5" x2="59.5" y2="226.5"/>
<line x1="54.0" y1="169.5" x2="59.5" y2="169.5"/>
<line x1="54.0" y1="112.5" x2="59.5" y2="112.5"/>
</g>
<g style="font-size:13.35px">
<text x="87.7" y="552.7" text-anchor="middle">10</text>
<text x="311.9" y="552.7" text-anchor="middle">45</text>
<text x="343.9" y="552.7" text-anchor="middle">50</text>
<text x="375.9" y="552.7" text-anchor="middle">55</text>
<text x="407.9" y="552.7" text-anchor="middle">60</text>
<text x="440.0" y="552.7" text-anchor="middle">65</text>
<text x="472.0" y="552.7" text-anchor="middle">70</text>
<text x="651.3" y="552.7" text-anchor="middle">98</text>
<text x="49.5" y="516.9" text-anchor="end">0.000</text>
<text x="49.5" y="459.9" text-anchor="end">0.025</text>
<text x="49.5" y="402.9" text-anchor="end">0.050</text>
<text x="49.5" y="345.9" text-anchor="end">0.075</text>
<text x="49.5" y="288.9" text-anchor="end">0.100</text>
<text x="49.5" y="231.9" text-anchor="end">0.125</text>
<text x="49.5" y="174.9" text-anchor="end">0.150</text>
<text x="49.5" y="117.9" text-anchor="end">0.175</text>
<text x="369.7" y="572.0" text-anchor="middle" style="font-size:13.89px">Lightness (%)</text>
</g>
<text x="283.2" y="26.9" style="font-size:16.67px"><tspan font-style="italic">C</tspan><tspan dx="3.5" dy="-7.4" style="font-size:11.67px">*</tspan><tspan dx="7.2" dy="7.4">curves (v1.4.0)</tspan></text>
</svg></body></html>
